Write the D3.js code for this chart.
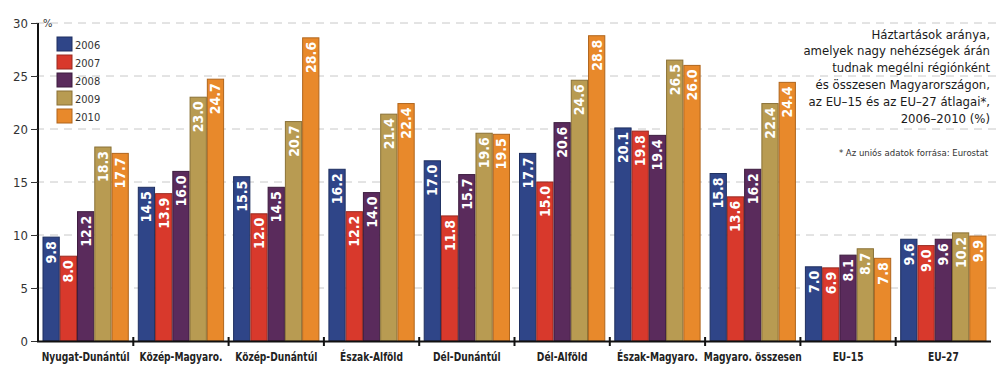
<!DOCTYPE html>
<html lang="hu">
<head>
<meta charset="UTF-8">
<title>Háztartások aránya</title>
<script src="https://d3js.org/d3.v7.min.js"></script>
<style>
  body { margin: 0; background: #fff; }
  svg text { font-family: "DejaVu Sans", sans-serif; font-stretch: condensed; }
  .grid line { stroke: #c8c8c8; stroke-dasharray: 8 6; }
  .val { fill: #fff; font-weight: bold; font-size: 14px; }
  .cat { font-size: 11.5px; font-weight: bold; fill: #222; }
  .tick-lbl { font-size: 13px; fill: #333; }
  .title { font-size: 13px; fill: #1a1a1a; text-anchor: end; }
</style>
</head>
<body>
<svg width="1000" height="372"></svg>
<script>
// adatok
const categories = ["Nyugat-Dunántúl", "Közép-Magyaro.", "Közép-Dunántúl", "Észak-Alföld",
  "Dél-Dunántúl", "Dél-Alföld", "Észak-Magyaro.", "Magyaro. összesen", "EU–15", "EU–27"];
const years = ["2006", "2007", "2008", "2009", "2010"];
const v2006 = [9.8, 14.5, 15.5, 16.2, 17.0, 17.7, 20.1, 15.8, 7.0, 9.6];
const v2007 = [8.0, 13.9, 12.0, 12.2, 11.8, 15.0, 19.8, 13.6, 6.9, 9.0];
const v2008 = [12.2, 16.0, 14.5, 14.0, 15.7, 20.6, 19.4, 16.2, 8.1, 9.6];
const v2009 = [18.3, 23.0, 20.7, 21.4, 19.6, 24.6, 26.5, 22.4, 8.7, 10.2];
const v2010 = [17.7, 24.7, 28.6, 22.4, 19.5, 28.8, 26.0, 24.4, 7.8, 9.9];
const yTicks = [0, 5, 10, 15, 20, 25, 30];
const colors = ["#2f4588", "#d8392c", "#5a2b5c", "#b89b52", "#e8892b"];
const strokes = ["#1e2f60", "#9a2a20", "#3c1c3e", "#8a7136", "#b0651c"];
const titleLines = ["Háztartások aránya,", "amelyek nagy nehézségek árán", "tudnak megélni régiónként",
  "és összesen Magyarországon,", "az EU–15 és az EU–27 átlagai*,", "2006–2010 (%)"];
const footnote = "* Az uniós adatok forrása: Eurostat";

const series = [v2006, v2007, v2008, v2009, v2010];
const data = categories.map((c, i) => ({
  cat: c,
  values: years.map((y, j) => ({ year: y, idx: j, value: series[j][i] }))
}));

const svg = d3.select("svg");
const x0 = 38, x1end = 991, yBase = 341, yTop = 23;

const x = d3.scaleBand().domain(categories).range([x0, x1end]).padding(0);
const xi = d3.scaleBand().domain(years).range([4.5, x.bandwidth() - 4.5]).padding(0);
const y = d3.scaleLinear().domain([0, 30]).range([yBase, yTop]);

// rács
svg.append("g").attr("class", "grid")
  .selectAll("line").data(yTicks.filter(d => d > 0)).join("line")
  .attr("x1", 36).attr("x2", 1000)
  .attr("y1", d => y(d)).attr("y2", d => y(d));

// oszlopok
const g = svg.append("g").selectAll("g").data(data).join("g")
  .attr("transform", d => `translate(${x(d.cat)},0)`);

g.selectAll("rect").data(d => d.values).join("rect")
  .attr("x", d => xi(d.year) + 0.5)
  .attr("y", d => y(d.value))
  .attr("width", xi.bandwidth() - 1)
  .attr("height", d => yBase - y(d.value))
  .attr("fill", d => colors[d.idx])
  .attr("stroke", d => strokes[d.idx])
  .attr("stroke-width", 1);

// értékek az oszlopokban
g.selectAll("text.val").data(d => d.values).join("text")
  .attr("class", "val")
  .attr("transform", d => `translate(${xi(d.year) + xi.bandwidth() / 2},${y(d.value) + 4}) rotate(-90)`)
  .attr("text-anchor", "end")
  .attr("dominant-baseline", "central")
  .text(d => d.value.toFixed(1));

// tengelyek
const yAxis = svg.append("g").attr("transform", `translate(${x0},0)`)
  .call(d3.axisLeft(y).tickValues(yTicks).tickSize(7).tickPadding(3));
yAxis.select(".domain").attr("stroke", "#111").attr("stroke-width", 2).attr("d", `M0,${yTop}V${yBase}`);
yAxis.selectAll(".tick line").attr("stroke", "#333");
yAxis.selectAll(".tick text").attr("class", "tick-lbl").attr("font-size", null).attr("font-family", null);

svg.append("line").attr("x1", x0 - 1).attr("x2", x1end).attr("y1", yBase + 0.5).attr("y2", yBase + 0.5)
  .attr("stroke", "#111").attr("stroke-width", 2);

svg.append("g").selectAll("line").data(categories.slice(1)).join("line")
  .attr("x1", d => x(d)).attr("x2", d => x(d))
  .attr("y1", yBase - 4).attr("y2", yBase + 5)
  .attr("stroke", "#111").attr("stroke-width", 2);

svg.append("g").selectAll("text").data(categories).join("text")
  .attr("class", "cat")
  .attr("transform", d => `translate(${x(d) + x.bandwidth() / 2},361) scale(0.88,1)`)
  .attr("text-anchor", "middle")
  .text(d => d);

svg.append("text").attr("x", 43).attr("y", yTop + 4).attr("font-size", 11).attr("fill", "#333").text("%");

// jelmagyarázat
const leg = svg.append("g").selectAll("g").data(years).join("g")
  .attr("transform", (d, i) => `translate(57,${37 + i * 18})`);
leg.append("rect").attr("width", 15).attr("height", 14)
  .attr("fill", (d, i) => colors[i]).attr("stroke", (d, i) => strokes[i]);
leg.append("text").attr("x", 18).attr("y", 11.5).attr("font-size", 11).attr("fill", "#333").text(d => d);

// cím
svg.append("g").selectAll("text").data(titleLines).join("text")
  .attr("class", "title")
  .attr("x", 990).attr("y", (d, i) => 38.5 + i * 16.8)
  .text(d => d);
svg.append("text").attr("x", 988).attr("y", 156).attr("text-anchor", "end")
  .attr("font-size", 9.5).attr("fill", "#333").text(footnote);
</script>
</body>
</html>
